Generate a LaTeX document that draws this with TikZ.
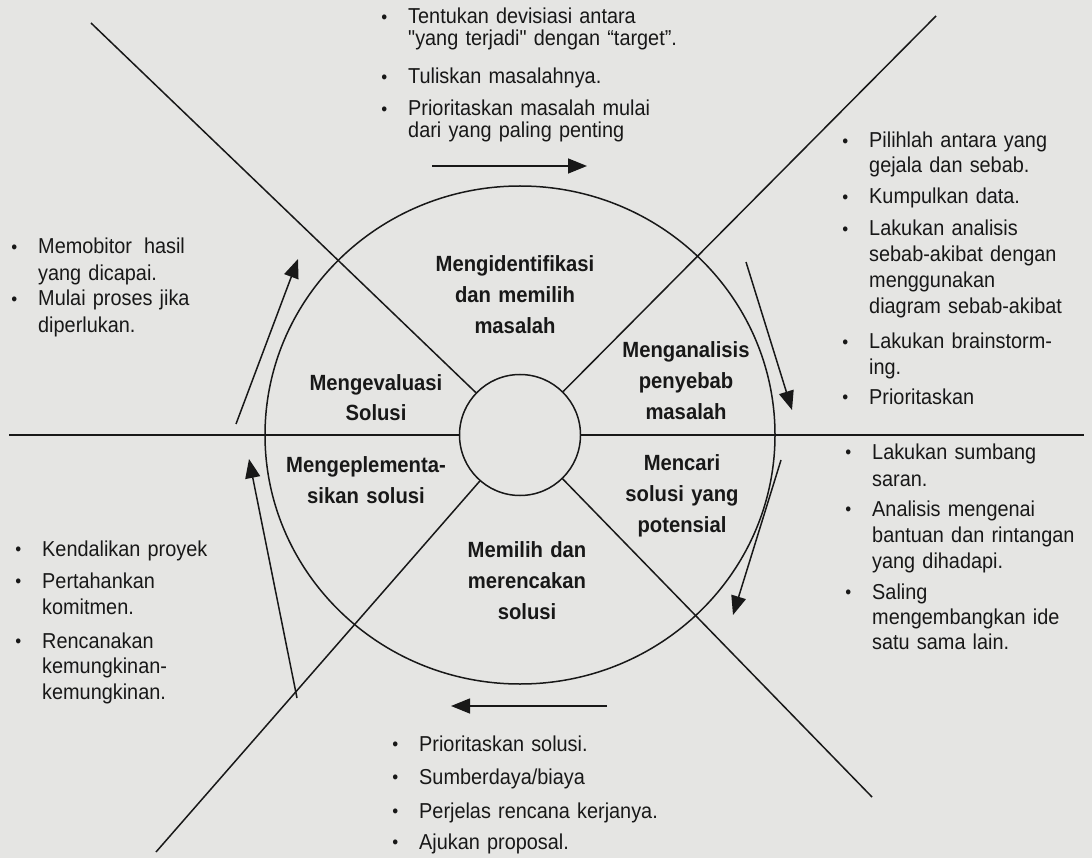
\documentclass[tikz,border=0pt]{standalone}
\usepackage{fontspec}
\setmainfont{Liberation Sans}[FakeStretch=0.92, Ligatures=TeXOff]
\usetikzlibrary{arrows.meta}
\definecolor{paper}{RGB}{229,229,227}
\definecolor{ink}{RGB}{24,24,24}
\newcommand\bul{\leavevmode\llap{\raisebox{0.8pt}{\scalebox{0.85}{\textbullet}}\hspace{21pt}}}
\begin{document}
\begin{tikzpicture}[x=1pt,y=-1pt,
  lbl/.style={text width=220pt, align=center, inner sep=0pt, anchor=base, text=ink,
    font=\fontsize{22}{31}\selectfont\bfseries},
  itm/.style={text width=300pt, align=left, inner sep=0pt, anchor=base west, text=ink,
    font=\fontsize{21.6}{#1}\selectfont},
  itm/.default=25.5,
  ln/.style={draw=ink, line width=1.5pt},
  arr/.style={ln, -{Triangle[length=19pt,width=15pt]}}
]
\useasboundingbox (0,0) rectangle (1092,858);
\fill[paper] (0,0) rectangle (1092,858);

% circles
\coordinate (C) at (520,435);
\draw[ln] (C) ellipse [x radius=255, y radius=249];
\node[ln, circle, minimum size=121pt, inner sep=0pt] (sc) at (C) {};

% dividing lines
\coordinate (ul) at (91,23);
\coordinate (ur) at (936,16);
\coordinate (ll) at (156,852);
\coordinate (lr) at (872,797);
\coordinate (hl) at (9,435);
\coordinate (hr) at (1084,435);
\draw[ln] (ul) -- (sc);
\draw[ln] (ur) -- (sc);
\draw[ln] (ll) -- (sc);
\draw[ln] (lr) -- (sc);
\draw[ln] (hl) -- (sc);
\draw[ln] (sc) -- (hr);

% cycle arrows
\coordinate (a1s) at (432,166); \coordinate (a1e) at (587,166);
\coordinate (a2s) at (746,262); \coordinate (a2e) at (792,410);
\coordinate (a3s) at (781,460); \coordinate (a3e) at (733,615);
\coordinate (a4s) at (607,706); \coordinate (a4e) at (451,706);
\coordinate (a5s) at (297,698); \coordinate (a5e) at (249,459);
\coordinate (a6s) at (236,424); \coordinate (a6e) at (298,259);
\draw[arr] (a1s) -- (a1e);
\draw[arr] (a2s) -- (a2e);
\draw[arr] (a3s) -- (a3e);
\draw[arr] (a4s) -- (a4e);
\draw[arr] (a5s) -- (a5e);
\draw[arr] (a6s) -- (a6e);

% stage labels
\node[lbl] (s1) at (515,272) {Mengidentifikasi\\dan memilih\\masalah};
\node[lbl] (s2) at (686,358) {Menganalisis\\penyebab\\masalah};
\node[lbl] (s3) at (682,470) {Mencari\\solusi yang\\potensial};
\node[lbl] (s4) at (527,557) {Memilih dan\\merencakan\\solusi};
\node[lbl] (s5) at (366,472) {Mengeplementa-\\sikan solusi};
\node[lbl] (s6) at (376,390) {Mengevaluasi\\Solusi};

% top block
\node[itm=22] (a1) at (408,24) {\bul Tentukan devisiasi antara\\"yang terjadi" dengan “target”.};
\node[itm] (a2) at (408,84) {\bul Tuliskan masalahnya.};
\node[itm=22] (a3) at (408,116) {\bul Prioritaskan masalah mulai\\dari yang paling penting};

% right upper block
\node[itm=25] (b1) at (869,148) {\bul Pilihlah antara yang\\gejala dan sebab.};
\node[itm] (b2) at (869,204) {\bul Kumpulkan data.};
\node[itm=26] (b3) at (869,236) {\bul Lakukan analisis\\sebab-akibat dengan\\menggunakan\\diagram sebab-akibat};
\node[itm=25] (b4) at (869,349) {\bul Lakukan brainstorm-\\ing.};
\node[itm] (b5) at (869,404) {\bul Prioritaskan};

% right lower block
\node[itm=27] (c1) at (872,459) {\bul Lakukan sumbang\\saran.};
\node[itm=26] (c2) at (872,516) {\bul Analisis mengenai\\bantuan dan rintangan\\yang dihadapi.};
\node[itm=25] (c3) at (872,599) {\bul Saling\\mengembangkan ide\\satu sama lain.};

% bottom block
\node[itm] (d1) at (419,751) {\bul Prioritaskan solusi.};
\node[itm] (d2) at (419,784) {\bul Sumberdaya/biaya};
\node[itm] (d3) at (419,818) {\bul Perjelas rencana kerjanya.};
\node[itm] (d4) at (419,849) {\bul Ajukan proposal.};

% left lower block
\node[itm] (e1) at (42,556) {\bul Kendalikan proyek};
\node[itm=26] (e2) at (42,588) {\bul Pertahankan\\komitmen.};
\node[itm=25.5] (e3) at (42,648) {\bul Rencanakan\\kemungkinan-\\kemungkinan.};

% left upper block
\node[itm=27] (f1) at (38,254) {\bul Memobitor\hspace{12pt}hasil\\yang dicapai.};
\node[itm=27] (f2) at (38,306) {\bul Mulai proses jika\\diperlukan.};
\end{tikzpicture}
\end{document}
